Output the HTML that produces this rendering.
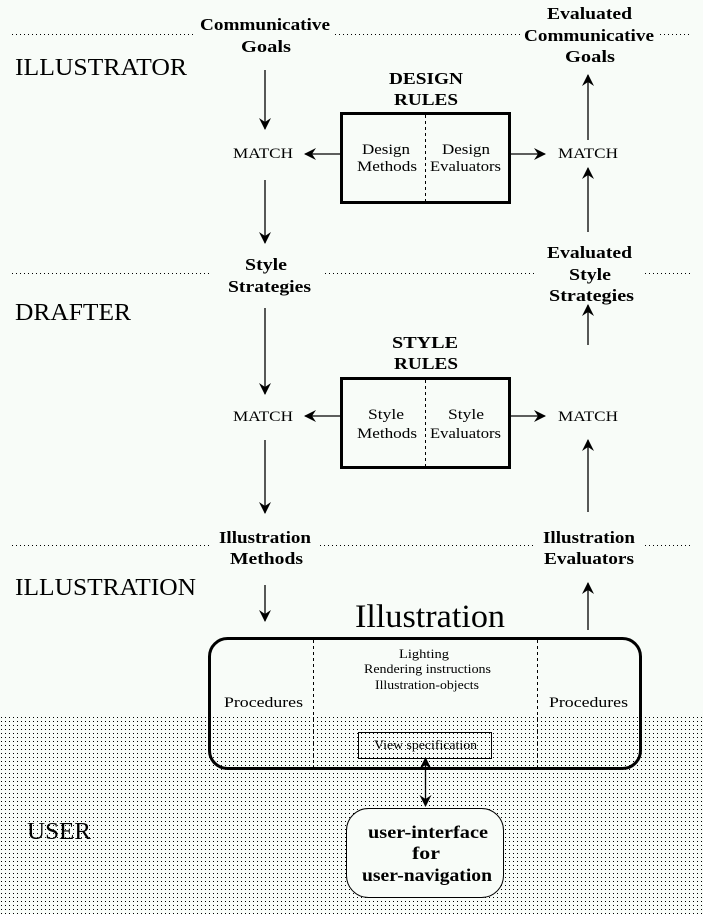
<!DOCTYPE html>
<html><head><meta charset="utf-8"><style>
html,body{margin:0;padding:0;background:#f8fcf8;}
svg{display:block;font-family:"Liberation Serif",serif;}
.b{font-weight:bold;font-size:17px;}
.m{font-size:15px;}
.lab{font-size:24px;}
</style></head><body>
<svg width="703" height="914" viewBox="0 0 703 914" xmlns="http://www.w3.org/2000/svg">
<defs>
<pattern id="dots" x="0" y="0" width="4" height="4" patternUnits="userSpaceOnUse">
<rect x="1" y="1" width="1" height="1" fill="#000"/>
</pattern>
<marker id="ah" viewBox="0 0 12 12" refX="11" refY="6" markerWidth="12" markerHeight="12" markerUnits="userSpaceOnUse" orient="auto-start-reverse">
<path d="M0,0 L12,6 L0,12 L4,6 Z" fill="#000"/>
</marker>
</defs>
<rect x="0" y="717" width="703" height="197" fill="url(#dots)"/>
<g stroke="#000" stroke-width="1" stroke-dasharray="1,3">
<line x1="12" y1="34.5" x2="195" y2="34.5"/><line x1="335" y1="34.5" x2="520" y2="34.5"/><line x1="660" y1="34.5" x2="692" y2="34.5"/>
<line x1="12" y1="273.5" x2="210" y2="273.5"/><line x1="325" y1="273.5" x2="535" y2="273.5"/><line x1="645" y1="273.5" x2="692" y2="273.5"/>
<line x1="12" y1="545.5" x2="210" y2="545.5"/><line x1="320" y1="545.5" x2="535" y2="545.5"/><line x1="645" y1="545.5" x2="692" y2="545.5"/>
</g>
<g class="lab" lengthAdjust="spacingAndGlyphs">
<text x="15" y="75" textLength="172" lengthAdjust="spacingAndGlyphs">ILLUSTRATOR</text>
<text x="15" y="320" textLength="116" lengthAdjust="spacingAndGlyphs">DRAFTER</text>
<text x="15" y="595" textLength="181" lengthAdjust="spacingAndGlyphs">ILLUSTRATION</text>
<text x="27" y="839" textLength="64" lengthAdjust="spacingAndGlyphs">USER</text>
</g>
<g class="b">
<text x="200" y="30" textLength="130" lengthAdjust="spacingAndGlyphs">Communicative</text><text x="241" y="52" textLength="50" lengthAdjust="spacingAndGlyphs">Goals</text>
<text x="389" y="84" textLength="74" lengthAdjust="spacingAndGlyphs">DESIGN</text><text x="394" y="105" textLength="64" lengthAdjust="spacingAndGlyphs">RULES</text>
<text x="245" y="270" textLength="42" lengthAdjust="spacingAndGlyphs">Style</text><text x="228" y="292" textLength="83" lengthAdjust="spacingAndGlyphs">Strategies</text>
<text x="392" y="348" textLength="66" lengthAdjust="spacingAndGlyphs">STYLE</text><text x="394" y="369" textLength="64" lengthAdjust="spacingAndGlyphs">RULES</text>
<text x="219" y="543" textLength="92" lengthAdjust="spacingAndGlyphs">Illustration</text><text x="230" y="564" textLength="73" lengthAdjust="spacingAndGlyphs">Methods</text>
<text x="547" y="19" textLength="85" lengthAdjust="spacingAndGlyphs">Evaluated</text><text x="524" y="41" textLength="130" lengthAdjust="spacingAndGlyphs">Communicative</text><text x="565" y="62" textLength="50" lengthAdjust="spacingAndGlyphs">Goals</text>
<text x="547" y="258" textLength="85" lengthAdjust="spacingAndGlyphs">Evaluated</text><text x="569" y="280" textLength="42" lengthAdjust="spacingAndGlyphs">Style</text><text x="549" y="301" textLength="85" lengthAdjust="spacingAndGlyphs">Strategies</text>
<text x="543" y="543" textLength="92" lengthAdjust="spacingAndGlyphs">Illustration</text><text x="544" y="564" textLength="90" lengthAdjust="spacingAndGlyphs">Evaluators</text>
</g>
<g class="m">
<text x="233" y="158" textLength="60" lengthAdjust="spacingAndGlyphs">MATCH</text><text x="558" y="158" textLength="60" lengthAdjust="spacingAndGlyphs">MATCH</text>
<text x="233" y="421" textLength="60" lengthAdjust="spacingAndGlyphs">MATCH</text><text x="558" y="421" textLength="60" lengthAdjust="spacingAndGlyphs">MATCH</text>
<text x="362" y="154" textLength="48" lengthAdjust="spacingAndGlyphs">Design</text><text x="357" y="171" textLength="60" lengthAdjust="spacingAndGlyphs">Methods</text>
<text x="442" y="154" textLength="48" lengthAdjust="spacingAndGlyphs">Design</text><text x="430" y="171" textLength="71" lengthAdjust="spacingAndGlyphs">Evaluators</text>
<text x="368" y="419" textLength="36" lengthAdjust="spacingAndGlyphs">Style</text><text x="357" y="438" textLength="60" lengthAdjust="spacingAndGlyphs">Methods</text>
<text x="448" y="419" textLength="36" lengthAdjust="spacingAndGlyphs">Style</text><text x="430" y="438" textLength="71" lengthAdjust="spacingAndGlyphs">Evaluators</text>
<text x="224" y="707" textLength="79" lengthAdjust="spacingAndGlyphs">Procedures</text><text x="549" y="707" textLength="79" lengthAdjust="spacingAndGlyphs">Procedures</text>
</g>
<g font-size="13">
<text x="399" y="658" textLength="50" lengthAdjust="spacingAndGlyphs">Lighting</text>
<text x="364" y="673" textLength="127" lengthAdjust="spacingAndGlyphs">Rendering instructions</text>
<text x="375" y="689" textLength="104" lengthAdjust="spacingAndGlyphs">Illustration-objects</text>
<text x="374" y="749" textLength="103" lengthAdjust="spacingAndGlyphs">View specification</text>
</g>
<text x="355" y="627" font-size="33" textLength="150" lengthAdjust="spacingAndGlyphs">Illustration</text>
<g fill="none" stroke="#000">
<rect x="341.5" y="113.5" width="168" height="89" stroke-width="3"/>
<rect x="341.5" y="378.5" width="168" height="89" stroke-width="3"/>
<rect x="209.5" y="638.5" width="431" height="130" rx="18" stroke-width="3"/>
<rect x="358.5" y="732.5" width="133" height="26" stroke-width="1"/>
</g>
<rect x="346.5" y="808.5" width="157" height="89" rx="22" fill="#f8fcf8" stroke="#000"/>
<g font-weight="bold" font-size="18">
<text x="368" y="838" textLength="120" lengthAdjust="spacingAndGlyphs">user-interface</text>
<text x="412" y="859" textLength="28" lengthAdjust="spacingAndGlyphs">for</text>
<text x="362" y="881" textLength="130" lengthAdjust="spacingAndGlyphs">user-navigation</text>
</g>
<g stroke="#000" stroke-dasharray="3,3">
<line x1="425.5" y1="115" x2="425.5" y2="201"/>
<line x1="425.5" y1="380" x2="425.5" y2="466"/>
<line x1="313.5" y1="640" x2="313.5" y2="767"/>
<line x1="537.5" y1="640" x2="537.5" y2="767"/>
</g>
<g stroke="#000" stroke-width="1.3" marker-end="url(#ah)">
<line x1="265" y1="70" x2="265" y2="129"/>
<line x1="265" y1="180" x2="265" y2="243"/>
<line x1="265" y1="308" x2="265" y2="394"/>
<line x1="265" y1="440" x2="265" y2="513"/>
<line x1="265" y1="585" x2="265" y2="621"/>
<line x1="340" y1="154" x2="305" y2="154"/>
<line x1="511" y1="154" x2="545" y2="154"/>
<line x1="340" y1="416" x2="305" y2="416"/>
<line x1="511" y1="416" x2="545" y2="416"/>
<line x1="588" y1="140" x2="588" y2="75"/>
<line x1="588" y1="232" x2="588" y2="168"/>
<line x1="588" y1="345" x2="588" y2="305"/>
<line x1="588" y1="512" x2="588" y2="440"/>
<line x1="588" y1="630" x2="588" y2="583"/>
<line x1="425.5" y1="783" x2="425.5" y2="758"/>
<line x1="425.5" y1="783" x2="425.5" y2="806"/>
</g>
</svg>
</body></html>
